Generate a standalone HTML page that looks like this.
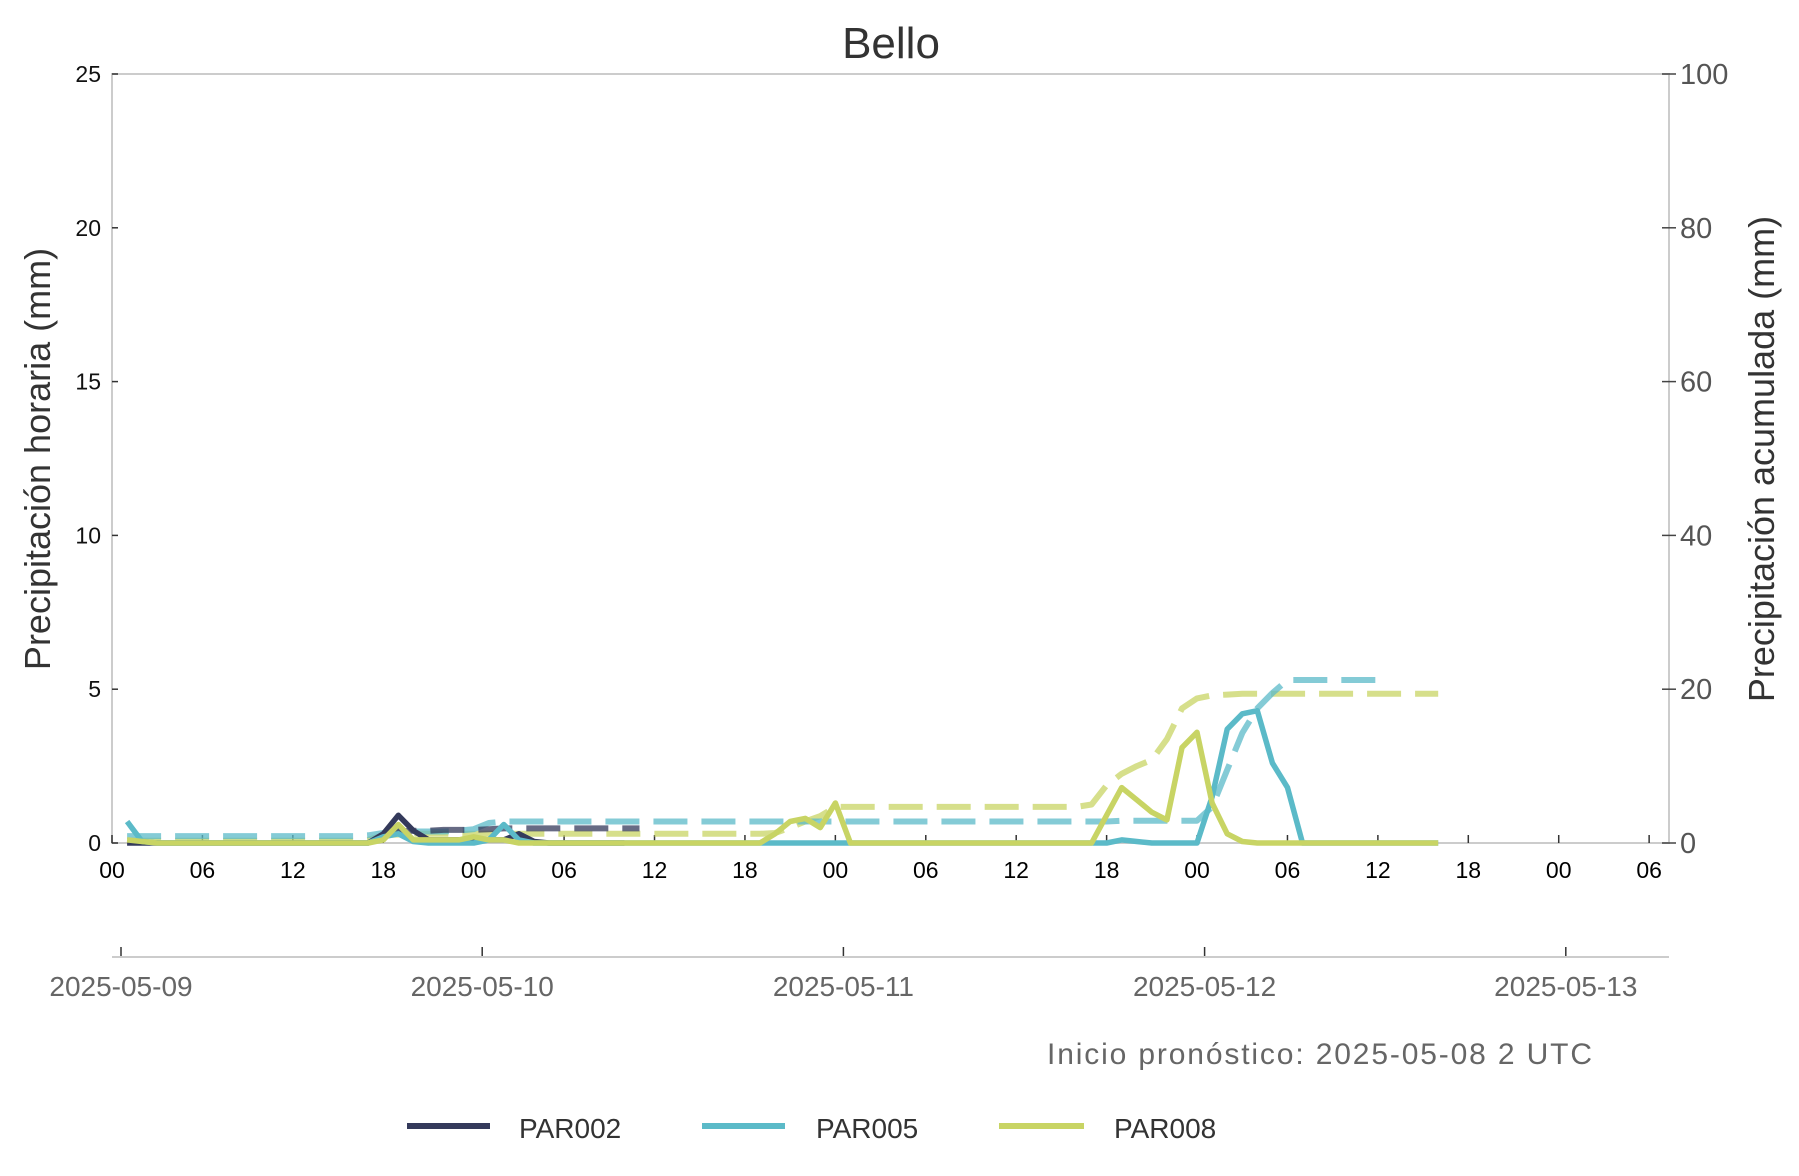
<!DOCTYPE html>
<html><head><meta charset="utf-8"><style>
body{margin:0;background:#fff;}
svg{display:block;font-family:"Liberation Sans",sans-serif;}
</style></head><body>
<svg id="chart" width="1799" height="1176" viewBox="0 0 1799 1176">
<text x="891" y="58" text-anchor="middle" font-size="44" fill="#333">Bello</text>
<rect x="112" y="74" width="1557" height="769" fill="none" stroke="#ccc" stroke-width="2"/>
<g id="ticks"></g>
<g id="series"></g>
<text transform="translate(50,459) rotate(-90)" text-anchor="middle" font-size="36" fill="#333">Precipitación horaria (mm)</text>
<text transform="translate(1774,459) rotate(-90)" text-anchor="middle" font-size="36" fill="#333">Precipitación acumulada (mm)</text>
<line x1="112" y1="957" x2="1669" y2="957" stroke="#ccc" stroke-width="2"/>
<text x="1047" y="1064" font-size="30" fill="#666" textLength="545">Inicio pronóstico: 2025-05-08 2 UTC</text>
<g>
<line x1="407" y1="1126" x2="490" y2="1126" stroke="#343a5b" stroke-width="6"/>
<text x="519" y="1138" font-size="28" fill="#333">PAR002</text>
<line x1="702" y1="1126" x2="785" y2="1126" stroke="#5bbac8" stroke-width="6"/>
<text x="816" y="1138" font-size="28" fill="#333">PAR005</text>
<line x1="999" y1="1126" x2="1084" y2="1126" stroke="#c8d464" stroke-width="6"/>
<text x="1114" y="1138" font-size="28" fill="#333">PAR008</text>
</g>
</svg>
<script>
const hourTickLabels=["00","06","12","18","00","06","12","18","00","06","12","18","00","06","12","18","00","06"];
const leftTicks=[0,5,10,15,20,25];
const rightTicks=[0,20,40,60,80,100];
const dateLabels=["2025-05-09","2025-05-10","2025-05-11","2025-05-12","2025-05-13"];
const par002Start=1;
const par002Hourly=[0,0,0,0,0,0,0,0,0,0,0,0,0,0,0,0,0,0.3,0.9,0.4,0.1,0.1,0.1,0.1,0.1,0.1,0.3,0.05,0,0,0,0,0,0];
const par002CumStart=18;
const par002Cum=[0.8,1.5,1.6,1.6,1.7,1.7,1.7,1.8,1.9,1.9,1.9,1.9,1.9,1.9,1.9,1.9,1.9,1.9];
const par005Start=1;
const par005Hourly=[0.7,0.05,0,0,0,0,0,0,0,0,0,0,0,0,0,0,0,0.2,0.3,0.05,0,0,0,0,0.1,0.6,0.1,0,0,0,0,0,0,0,0,0,0,0,0,0,0,0,0,0,0,0,0,0,0,0,0,0,0,0,0,0,0,0,0,0,0,0,0,0,0,0,0.1,0.05,0,0,0,0,1.5,3.7,4.2,4.3,2.6,1.8,0,0,0,0,0,0,0,0,0,0];
const par005Cum=[0.9,0.9,0.9,0.9,0.9,0.9,0.9,0.9,0.9,0.9,0.9,0.9,0.9,0.9,0.9,0.9,1.0,1.3,1.5,1.5,1.5,1.5,1.6,1.8,2.6,2.8,2.8,2.8,2.8,2.8,2.8,2.8,2.8,2.8,2.8,2.8,2.8,2.8,2.8,2.8,2.8,2.8,2.8,2.8,2.8,2.8,2.8,2.8,2.8,2.8,2.8,2.8,2.8,2.8,2.8,2.8,2.8,2.8,2.8,2.8,2.8,2.8,2.8,2.8,2.8,2.8,2.9,2.9,2.9,2.9,2.9,2.9,4.7,9.5,14.3,17.5,19.5,21.2,21.2,21.2,21.2,21.2,21.2,21.2];
const par008Start=1;
const par008Hourly=[0.1,0.05,0,0,0,0,0,0,0,0,0,0,0,0,0,0,0,0.1,0.6,0.1,0.1,0.1,0.1,0.2,0.1,0.1,0,0,0,0,0,0,0,0,0,0,0,0,0,0,0,0,0,0.3,0.7,0.8,0.5,1.3,0,0,0,0,0,0,0,0,0,0,0,0,0,0,0,0,0,0.9,1.8,1.4,1.0,0.75,3.1,3.6,1.3,0.3,0.05,0,0,0,0,0,0,0,0,0,0,0,0,0];
const par008Cum=[0.3,0.3,0.3,0.3,0.3,0.3,0.3,0.3,0.3,0.3,0.3,0.3,0.3,0.3,0.3,0.3,0.4,1.0,1.1,1.2,1.2,1.2,1.2,1.2,1.2,1.2,1.2,1.2,1.2,1.2,1.2,1.2,1.2,1.2,1.2,1.2,1.2,1.2,1.2,1.2,1.2,1.2,1.2,1.3,2.0,2.8,3.5,4.7,4.7,4.7,4.7,4.7,4.7,4.7,4.7,4.7,4.7,4.7,4.7,4.7,4.7,4.7,4.7,4.7,5.0,7.5,9.0,10.0,10.8,13.5,17.5,18.8,19.2,19.3,19.4,19.4,19.4,19.4,19.4,19.4,19.4,19.4,19.4,19.4,19.4,19.4,19.4,19.4];

const X0=112,HPX=15.07,Y0=843,YT=74;
const x=h=>X0+h*HPX;
const yL=v=>Y0-v*(Y0-YT)/25;
const yR=v=>Y0-v*(Y0-YT)/100;
const NS="http://www.w3.org/2000/svg";
function mk(t,a,p){const e=document.createElementNS(NS,t);for(const k in a)e.setAttribute(k,a[k]);p.appendChild(e);return e;}
const tg=document.getElementById('ticks');
hourTickLabels.forEach((l,i)=>{
  const h=i*6;
  const tk=mk('line',{x1:x(h),y1:Y0,x2:x(h),y2:Y0-8,stroke:'#333','stroke-width':1.5},tg);
  
  
  const t=mk('text',{x:x(h),y:878,'text-anchor':'middle','font-size':23,fill:'#000'},tg);
  t.textContent=l;
  
  
});
leftTicks.forEach(v=>{
  const tk=mk('line',{x1:X0,y1:yL(v),x2:X0+6,y2:yL(v),stroke:'#333','stroke-width':1.5},tg);
  
  
  const t=mk('text',{x:101,y:yL(v)+8,'text-anchor':'end','font-size':23,fill:'#111'},tg);
  t.textContent=v;
  
  
});
rightTicks.forEach(v=>{
  const tk=mk('line',{x1:1662,y1:yR(v),x2:1676,y2:yR(v),stroke:'#444','stroke-width':1.5},tg);
  
  
  const t=mk('text',{x:1680,y:yR(v)+10,'font-size':29,fill:'#555'},tg);
  t.textContent=v;
  
  
});
dateLabels.forEach((d,i)=>{
  const dx=121+i*361.2;
  const tk=mk('line',{x1:dx,y1:947,x2:dx,y2:957,stroke:'#333','stroke-width':1.5},tg);
  
  
  const t=mk('text',{x:dx,y:996,'text-anchor':'middle','font-size':28,fill:'#666'},tg);
  t.textContent=d;
  
  
});
const sg=document.getElementById('series');
function pts(arr,start,fy){return arr.map((v,i)=>x(start+i).toFixed(1)+','+fy(v).toFixed(1)).join(' ');}
function line(arr,start,fy,color,dashed,name){
  const a={points:pts(arr,start,fy),fill:'none',stroke:color,'stroke-width':dashed?6:5.5,'stroke-linejoin':'round',opacity:dashed?0.75:1};
  if(dashed)a['stroke-dasharray']='34,14';
  const p=mk('polyline',a,sg);
  
  
}
line(par008Cum,par008Start,yR,'#c8d464',true,'par008-cumulative-line');
line(par005Cum,par005Start,yR,'#5bbac8',true,'par005-cumulative-line');
line(par002Cum,par002CumStart,yR,'#343a5b',true,'par002-cumulative-line');
line(par002Hourly,par002Start,yL,'#343a5b',false,'par002-hourly-line');
line(par005Hourly,par005Start,yL,'#5bbac8',false,'par005-hourly-line');
line(par008Hourly,par008Start,yL,'#c8d464',false,'par008-hourly-line');
</script>
</body></html>
